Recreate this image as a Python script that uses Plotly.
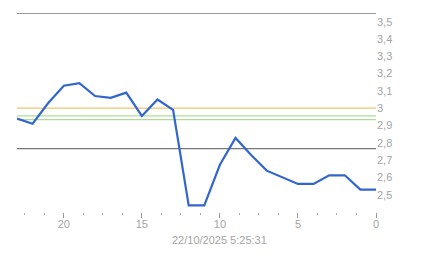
import plotly.graph_objects as go

# data
x_vals = list(range(23, -1, -1))
y_vals = [2.94, 2.91, 3.03, 3.13, 3.145, 3.07, 3.06, 3.09, 2.955, 3.05, 2.99,
          2.438, 2.438, 2.673, 2.828, 2.73, 2.639, 2.602, 2.562, 2.562,
          2.612, 2.612, 2.529, 2.529]
x_tick_vals = [0, 5, 10, 15, 20]
x_tick_text = ["0", "5", "10", "15", "20"]
y_tick_vals = [2.5, 2.6, 2.7, 2.8, 2.9, 3.0, 3.1, 3.2, 3.3, 3.4, 3.5]
y_tick_text = ["2,5", "2,6", "2,7", "2,8", "2,9", "3", "3,1", "3,2", "3,3", "3,4", "3,5"]
ref_values = [3.55, 2.766, 3.0, 2.956, 2.934]
ref_colors = ["#777777", "#777777", "#f3c56d", "#aedc98", "#aedc98"]
timestamp = "22/10/2025 5:25:31"

TXT = "#a4a4a4"
FONT = "Liberation Sans, Arial, sans-serif"

fig = go.Figure()
fig.add_trace(go.Scatter(x=x_vals, y=y_vals, mode="lines",
                         line=dict(color="#3366cc", width=2.2),
                         hoverinfo="skip", showlegend=False))

for v, c in zip(ref_values, ref_colors):
    fig.add_shape(type="line", xref="paper", x0=0, x1=1, yref="y", y0=v, y1=v,
                  line=dict(color=c, width=1.3), layer="below")

fig.add_annotation(text=timestamp, xref="paper", yref="paper", x=0.564, y=-0.141,
                   xanchor="center", yanchor="middle", showarrow=False,
                   font=dict(family=FONT, size=11, color=TXT))

fig.update_layout(
    width=443, height=258,
    margin=dict(l=17, r=67, t=13, b=46),
    paper_bgcolor="white", plot_bgcolor="white",
    separators=",.",
    font=dict(family=FONT, size=11, color=TXT),
    xaxis=dict(range=[23, 0], tickvals=x_tick_vals, ticktext=x_tick_text,
               showgrid=False, zeroline=False, showline=False,
               ticks="outside", ticklen=5, tickwidth=1, tickcolor="#999999",
               ticklabelstandoff=-3,
               minor=dict(dtick=1.25, tick0=0, ticks="outside", ticklen=2,
                          tickwidth=1, tickcolor="#aaaaaa", showgrid=False),
               tickfont=dict(family=FONT, size=11, color=TXT)),
    yaxis=dict(range=[2.4, 3.55], side="right", tickvals=y_tick_vals,
               ticktext=y_tick_text, showgrid=False, zeroline=False,
               showline=False, ticks="",
               tickfont=dict(family=FONT, size=11, color=TXT)),
)

fig.write_html("out.html")
